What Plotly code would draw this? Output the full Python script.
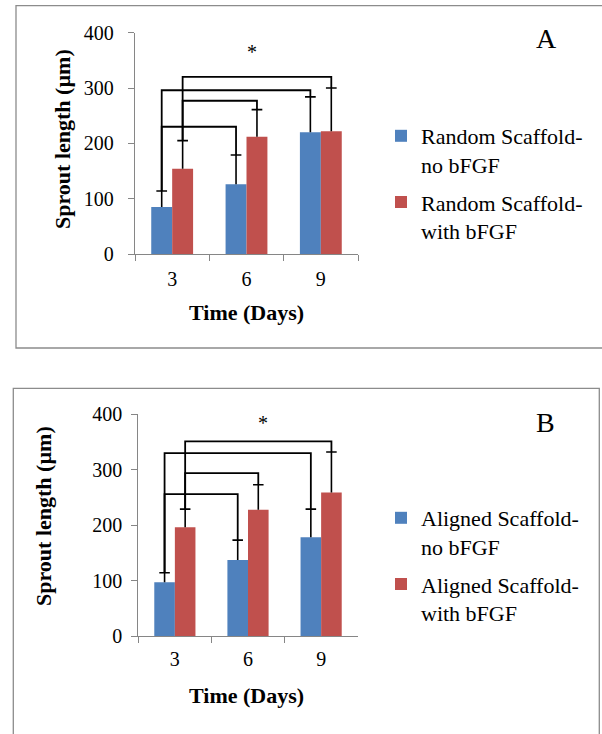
import plotly.graph_objects as go

# ---------------- data ----------------
days = ["3", "6", "9"]

# Panel A: random scaffold
a_no = [85, 126, 220]
a_no_sd = [29, 53, 64]
a_with = [154, 212, 222]
a_with_sd = [51, 49, 78]
a_names = ["Random Scaffold-<br>no bFGF", "Random Scaffold-<br>with bFGF"]

# Panel B: aligned scaffold
b_no = [97, 137, 178]
b_no_sd = [17, 36, 51]
b_with = [196, 228, 259]
b_with_sd = [33, 45, 73]
b_names = ["Aligned Scaffold-<br>no bFGF", "Aligned Scaffold-<br>with bFGF"]

# significance brackets: (series index, from day index, to day index)
bracket_pairs = [(0, 0, 1), (0, 0, 2), (1, 0, 1), (1, 0, 2)]
a_bracket_y = [230, 296, 277, 320]
b_bracket_y = [256, 330, 294, 351]
a_star = (1.07, 365)
b_star = (1.21, 384)

# ---------------- style ----------------
W, H = 602, 734
FONT = "Liberation Serif, Times New Roman, Tinos, DejaVu Serif, serif"
BLUE = "#4F81BD"
RED = "#C0504D"
AXIS = "#868686"
BARGAP = 0.437
HALF = (1 - BARGAP) / 4       # offset of each bar centre from category centre
CAP = 0.072                   # half cap width (category units)


def fx(p):
    return p / W


def fy(p):
    return 1 - p / H


fig = go.Figure()


def add_panel(xa, ya, xo, no, no_sd, wi, wi_sd, names, legend, br_y, star):
    means = [no, wi]
    sds = [no_sd, wi_sd]
    colors = [BLUE, RED]
    for s in range(2):
        fig.add_trace(go.Bar(
            x=days, y=means[s], name=names[s], marker_color=colors[s],
            marker_line_width=0, xaxis=xa, yaxis=ya, legend=legend,
            legendgroup=legend + str(s), hoverinfo="skip"))
    # error bars (upper only) on numeric overlay axis
    ex, ey = [], []
    for s in range(2):
        for i in range(len(days)):
            xc = i + (2 * s - 1) * HALF
            top = means[s][i] + sds[s][i]
            ex += [xc, xc, None, xc - CAP, xc + CAP, None]
            ey += [means[s][i], top, None, top, top, None]
    fig.add_trace(go.Scatter(x=ex, y=ey, mode="lines", line=dict(color="black", width=1.6),
                             xaxis=xo, yaxis=ya, showlegend=False, hoverinfo="skip"))
    # brackets
    bx, by = [], []
    for (s, i0, i1), h in zip(bracket_pairs, br_y):
        x0 = i0 + (2 * s - 1) * HALF
        x1 = i1 + (2 * s - 1) * HALF
        t0 = means[s][i0] + sds[s][i0]
        t1 = means[s][i1] + sds[s][i1]
        bx += [x0, x0, x1, x1, None]
        by += [t0, h, h, t1, None]
    fig.add_trace(go.Scatter(x=bx, y=by, mode="lines", line=dict(color="black", width=1.8),
                             xaxis=xo, yaxis=ya, showlegend=False, hoverinfo="skip"))
    fig.add_annotation(x=star[0], y=star[1], xref=xo, yref=ya, text="*", showarrow=False,
                       xanchor="center", yanchor="middle",
                       font=dict(family=FONT, size=20, color="black"))


add_panel("x", "y", "x3", a_no, a_no_sd, a_with, a_with_sd, a_names, "legend", a_bracket_y, a_star)
add_panel("x2", "y2", "x4", b_no, b_no_sd, b_with, b_with_sd, b_names, "legend2", b_bracket_y, b_star)

tickfont = dict(family=FONT, size=20, color="black")
xcommon = dict(type="category", ticks="outside", tickson="boundaries", ticklen=6,
               tickcolor=AXIS, showline=True, linecolor=AXIS, linewidth=1.3,
               showgrid=False, tickfont=tickfont, fixedrange=True)
ycommon = dict(range=[0, 400], tickvals=[0, 100, 200, 300, 400], ticks="outside",
               ticklen=6, tickcolor=AXIS, showline=True, linecolor=AXIS, linewidth=1.3,
               showgrid=False, zeroline=False, tickfont=tickfont, fixedrange=True)

legend_font = dict(family=FONT, size=22, color="black")
fig.update_layout(
    width=W, height=H, margin=dict(l=0, r=0, t=0, b=0, autoexpand=False),
    paper_bgcolor="white", plot_bgcolor="white",
    barmode="group", bargap=BARGAP, bargroupgap=0,
    font=dict(family=FONT, color="black"),
    xaxis=dict(domain=[fx(135), fx(358)], anchor="y", ticklabelstandoff=7, **xcommon),
    yaxis=dict(domain=[fy(254), fy(32.7)], anchor="x", ticklabelstandoff=10, **ycommon),
    xaxis3=dict(domain=[fx(135), fx(358)], anchor="y", overlaying="x", range=[-0.5, 2.5],
                visible=False, fixedrange=True),
    xaxis2=dict(domain=[fx(138.3), fx(357.7)], anchor="y2", ticklabelstandoff=5, **xcommon),
    yaxis2=dict(domain=[fy(636), fy(414.3)], anchor="x2", ticklabelstandoff=5, **ycommon),
    xaxis4=dict(domain=[fx(138.3), fx(357.7)], anchor="y2", overlaying="x2", range=[-0.5, 2.5],
                visible=False, fixedrange=True),
    legend=dict(x=fx(381), y=fy(115), xanchor="left", yanchor="top", valign="top",
                font=legend_font, bgcolor="rgba(0,0,0,0)", tracegroupgap=6, itemclick=False),
    legend2=dict(x=fx(381), y=fy(497), xanchor="left", yanchor="top", valign="top",
                 font=legend_font, bgcolor="rgba(0,0,0,0)", tracegroupgap=6, itemclick=False),
    showlegend=True,
)


def label(px, py, text, size, angle=0):
    fig.add_annotation(x=fx(px), y=fy(py), xref="paper", yref="paper", text=text,
                       textangle=angle, showarrow=False, xanchor="center", yanchor="middle",
                       font=dict(family=FONT, size=size, color="black"))


# axis titles and panel letters
label(63, 139, "<b>Sprout length (µm)</b>", 22, -90)
label(246.5, 312, "<b>Time (Days)</b>", 22)
label(546.7, 39, "A", 28)
label(43, 516, "<b>Sprout length (µm)</b>", 22, -90)
label(246.5, 695, "<b>Time (Days)</b>", 22)
label(545, 422.7, "B", 28)

# panel frames
fig.add_shape(type="rect", xref="paper", yref="paper", x0=fx(16), x1=fx(603), y0=fy(348), y1=fy(5.7),
              line=dict(color="#8c8c8c", width=1.3), layer="below")
fig.add_shape(type="rect", xref="paper", yref="paper", x0=fx(13.3), x1=fx(599.3), y0=fy(740), y1=fy(388.3),
              line=dict(color="#8c8c8c", width=1.3), layer="below")

fig.write_html("out.html", config={"displayModeBar": False},
               post_script="document.body.style.margin='0';")
